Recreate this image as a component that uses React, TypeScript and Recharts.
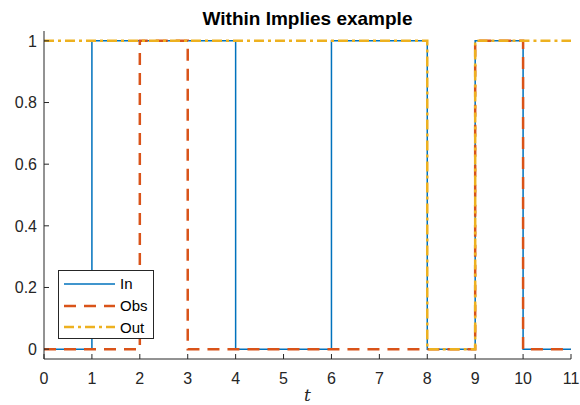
import { LineChart, Line, XAxis, YAxis, Legend } from "recharts";

const tValues = [0, 1, 2, 3, 4, 5, 6, 7, 8, 9, 10, 11];
const inValues = [0, 1, 1, 1, 0, 0, 1, 1, 0, 1, 0, 0];
const obsValues = [0, 0, 1, 0, 0, 0, 0, 0, 0, 1, 0, 0];
const outValues = [1, 1, 1, 1, 1, 1, 1, 1, 0, 1, 1, 1];
const xTicks = [0, 1, 2, 3, 4, 5, 6, 7, 8, 9, 10, 11];
const yTicks = [0, 0.2, 0.4, 0.6, 0.8, 1];

const data = tValues.map((t, i) => ({
  t,
  In: inValues[i],
  Obs: obsValues[i],
  Out: outValues[i]
}));

const series = [
  { key: "In", color: "#0072BD", width: 1.5, dash: undefined },
  { key: "Obs", color: "#D95319", width: 2.5, dash: "12 8" },
  { key: "Out", color: "#EDB120", width: 2.5, dash: "10 4 3 4" }
];

const font = "'Liberation Sans', Arial, sans-serif";
const axisColor = "#262626";

function LegendBox() {
  return (
    <div
      style={{
        boxSizing: "border-box",
        border: "1px solid #262626",
        background: "#fff",
        width: 96,
        height: 69,
        paddingTop: 2,
        fontFamily: font,
        fontSize: 15,
        color: "#000"
      }}
    >
      {series.map((s) => (
        <div key={s.key} style={{ display: "flex", alignItems: "center", height: 21.7 }}>
          <svg width={56} height={10} style={{ marginLeft: 4, marginRight: 1 }}>
            <line
              x1={1}
              y1={5}
              x2={52}
              y2={5}
              stroke={s.color}
              strokeWidth={s.width}
              strokeDasharray={s.dash}
            />
          </svg>
          <span>{s.key}</span>
        </div>
      ))}
    </div>
  );
}

export default function App() {
  return (
    <div style={{ position: "fixed", left: 0, top: 0, width: 580, height: 405, background: "#fff" }}>
      <div
        style={{
          position: "absolute",
          top: 9,
          left: 44,
          width: 527,
          textAlign: "center",
          fontFamily: font,
          fontWeight: "bold",
          fontSize: 19,
          lineHeight: "19px",
          color: "#000"
        }}
      >
        Within Implies example
      </div>
      <LineChart
        width={580}
        height={405}
        data={data}
        margin={{ top: 31, right: 9, bottom: 0, left: 8 }}
      >
        <XAxis
          dataKey="t"
          type="number"
          domain={[0, 11]}
          ticks={xTicks}
          interval={0}
          height={46}
          stroke={axisColor}
          tickSize={-5}
          tickMargin={19}
          tick={{ fill: axisColor, fontSize: 16, fontFamily: font }}
          label={{
            value: "t",
            position: "insideBottom",
            offset: 4,
            fill: axisColor,
            fontSize: 17,
            fontStyle: "italic",
            fontFamily: "'DejaVu Serif', serif"
          }}
        />
        <YAxis
          type="number"
          domain={[-0.032, 1.032]}
          ticks={yTicks}
          interval={0}
          width={36}
          stroke={axisColor}
          tickSize={-5}
          tickMargin={12}
          tickFormatter={(v: number) => String(v)}
          tick={{ fill: axisColor, fontSize: 16, fontFamily: font }}
        />
        <Legend
          layout="vertical"
          align="center"
          verticalAlign="middle"
          wrapperStyle={{ left: 58, top: 270, width: 96 }}
          content={() => <LegendBox />}
        />
        {series.map((s) => (
          <Line
            key={s.key}
            dataKey={s.key}
            type="stepAfter"
            stroke={s.color}
            strokeWidth={s.width}
            strokeDasharray={s.dash}
            dot={false}
            activeDot={false}
            isAnimationActive={false}
          />
        ))}
      </LineChart>
    </div>
  );
}
